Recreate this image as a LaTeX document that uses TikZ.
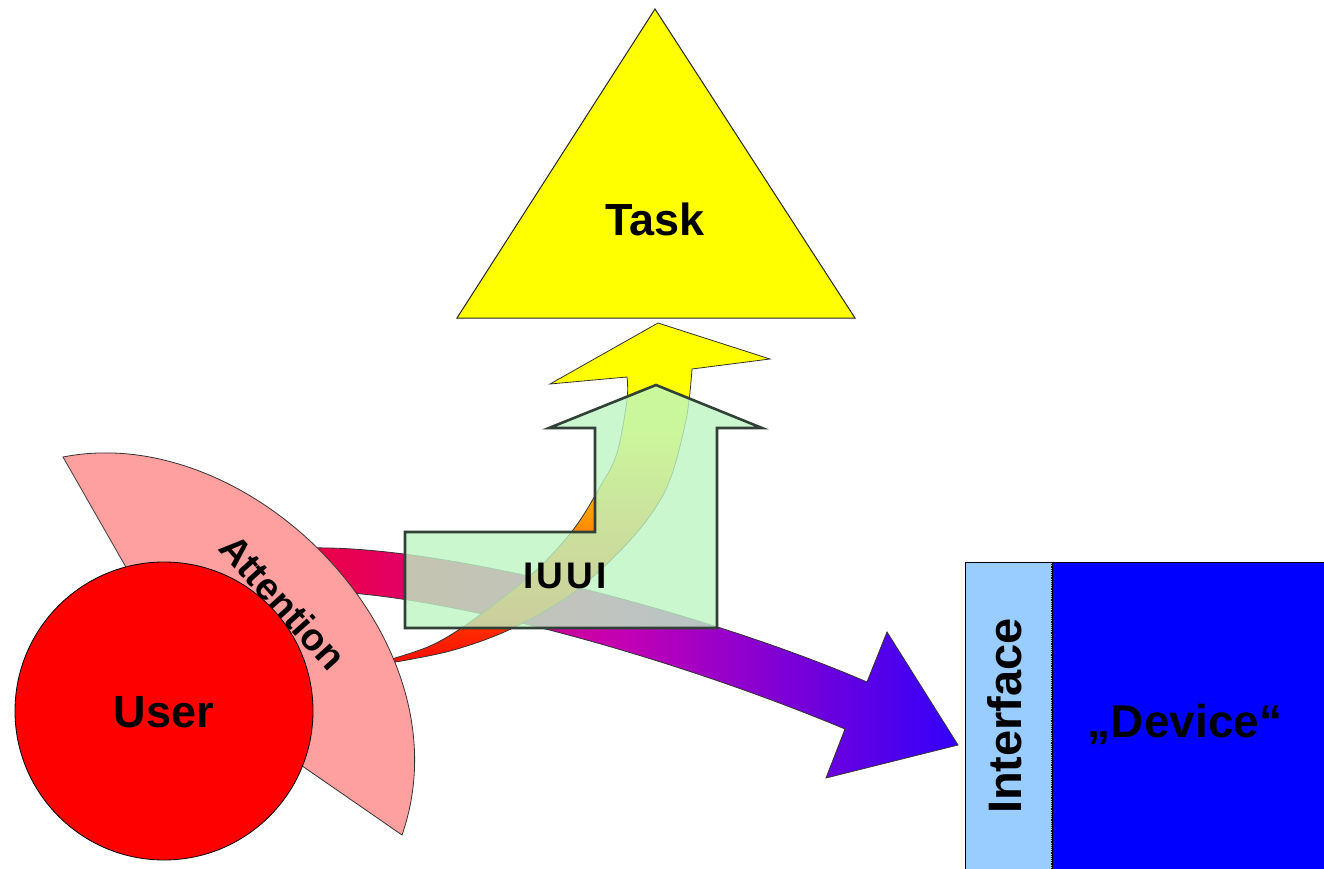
\documentclass[tikz,border=0pt]{standalone}
\usepackage{fontspec}
\setmainfont{Liberation Sans}
\definecolor{bandA}{RGB}{240,0,60}
\definecolor{bandB}{RGB}{195,0,180}
\definecolor{bandC}{RGB}{50,0,250}
\definecolor{orangeY}{RGB}{255,140,0}
\definecolor{redY}{RGB}{255,10,0}
\definecolor{yellowY}{RGB}{255,255,0}
\definecolor{attnpink}{RGB}{255,160,160}
\definecolor{ifblue}{RGB}{153,204,255}
\definecolor{devblue}{RGB}{0,0,255}
\definecolor{greenfill}{RGB}{190,246,196}
\definecolor{greenline}{RGB}{50,65,55}
\definecolor{userred}{RGB}{255,0,0}
\definecolor{taskyellow}{RGB}{255,255,0}
\pgfdeclarehorizontalshading{bandshade}{100bp}{color(0bp)=(bandA); color(25bp)=(bandA); color(50bp)=(bandB); color(75bp)=(bandC); color(100bp)=(bandC)}
\pgfdeclareverticalshading{yshade}{100bp}{color(0bp)=(redY); color(25bp)=(redY); color(45bp)=(orangeY); color(60bp)=(yellowY); color(100bp)=(yellowY)}
\tikzset{
  bigtext/.style={font=\bfseries\fontsize{45}{54}\selectfont, inner sep=0pt},
  midtext/.style={font=\bfseries\fontsize{38}{46}\selectfont, inner sep=0pt},
  thinline/.style={draw=black!80, line width=0.8pt},
}
\begin{document}
\begin{tikzpicture}[x=1pt, y=-1pt]
\useasboundingbox (0,0) rectangle (1324,869);
\fill[white] (0,0) rectangle (1324,869);

% red-to-blue band arrow
\shadedraw[shading=bandshade, thinline]
  (290,549) .. controls (420,538) and (700,610) .. (867,682)
  -- (887,632) -- (958,745) -- (826,778) -- (845,729)
  .. controls (680,660) and (440,590) .. (305,591) -- cycle;

% curved red-to-yellow arrow
\shadedraw[shading=yshade, thinline]
  (658,323) -- (770,359) -- (692,369)
  -- plot[smooth, tension=0.55] coordinates {(692,369) (686,420) (667,487) (633,537) (577,590) (513,628) (450,651) (378,665)}
  -- plot[smooth, tension=0.55] coordinates {(378,663) (430,646) (473,620) (533,573) (573,530) (600,487) (617,453) (627,400) (627,377)}
  -- (550,384) -- cycle;

% IUUI green arrow
\draw[fill=greenfill, fill opacity=0.8, draw=greenline, line width=2.6pt, line join=miter]
  (405,628) -- (405,532) -- (595,532) -- (595,428) -- (549,428) -- (656,385)
  -- (762,428) -- (717,428) -- (717,628) -- cycle;
\node[midtext, anchor=base, font=\bfseries\fontsize{37}{45}\selectfont\addfontfeature{LetterSpace=8}] (iuui) at (565,588) {IUUI};

% Attention sector
\draw[fill=attnpink, thinline]
  (63,457) .. controls (250,420) and (470,640) .. (402,835)
  -- (282,752) -- (170,700) -- (131,576) -- cycle;
\node[midtext, rotate=-48] (attention) at (283,602) {Attention};

% User circle
\node[circle, fill=userred, draw=black, line width=0.8pt, minimum size=298pt, inner sep=0pt] (user) at (164,711) {};
\node[bigtext, anchor=base] (userlabel) at (164,727) {User};

% Task triangle
\draw[fill=taskyellow, draw=black!85, line width=1pt, line join=miter] (655,9) -- (855,318) -- (457,318) -- cycle;
\node[bigtext, anchor=base] (task) at (655,235) {Task};

% Interface and Device
\fill[devblue] (1052,562) rectangle (1330,880);
\draw[fill=ifblue, draw=black, line width=0.8pt] (965,880) -- (965,562) -- (1052,562) -- (1052,880);
\draw[black, line width=0.8pt] (1052,562) -- (1330,562);
\draw[black, densely dotted, line width=1.2pt] (1052,562) -- (1052,869);
\node[bigtext, rotate=90, anchor=base, font=\bfseries\fontsize{47}{56}\selectfont] (iface) at (1021,716) {Interface};
\node[bigtext, anchor=base, font=\bfseries\fontsize{46}{55}\selectfont] (device) at (1185,737) {„Device“};
\end{tikzpicture}
\end{document}
